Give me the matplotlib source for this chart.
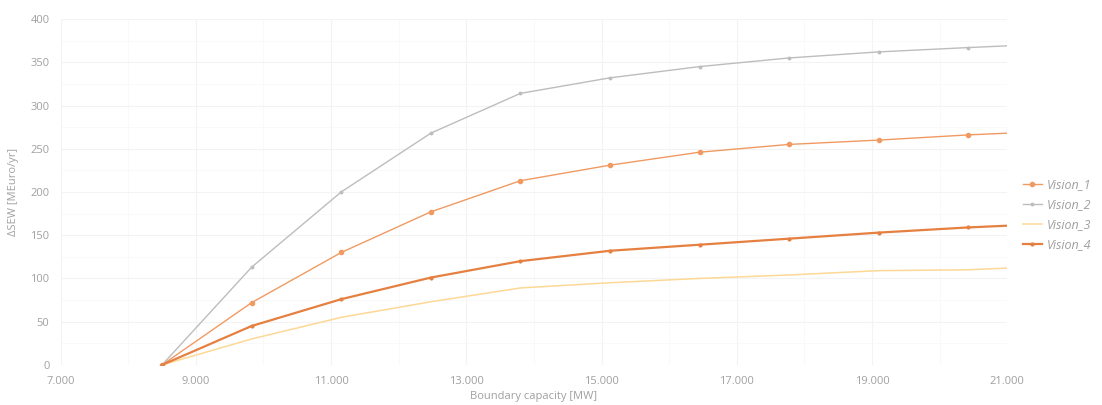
import matplotlib
matplotlib.use("Agg")
import matplotlib.pyplot as plt
from matplotlib.ticker import FuncFormatter, FixedLocator, MultipleLocator

# boundary capacity [MW]
capacity = [8500, 9825, 11150, 12475, 13800, 15125, 16450, 17775, 19100, 20425, 21000]

# delta SEW [MEuro/yr]
vision_1 = [0, 72, 130, 177, 213, 231, 246, 255, 260, 266, 268]
vision_2 = [0, 113, 200, 268, 314, 332, 345, 355, 362, 367, 369]
vision_3 = [0, 30, 55, 73, 89, 95, 100, 104, 109, 110, 112]
vision_4 = [0, 45, 76, 101, 120, 132, 139, 146, 153, 159, 161]

names = ["Vision_1", "Vision_2", "Vision_3", "Vision_4"]
xticks = [7000, 9000, 11000, 13000, 15000, 17000, 19000, 21000]

plt.rcParams['font.family'] = ['Open Sans', 'DejaVu Sans']
txt = '#a0a0a0'

fig = plt.figure(figsize=(11.02, 4.05), dpi=100)
ax = fig.add_axes([0.055, 0.099, 0.859, 0.854])

ax.plot(capacity, vision_1, color='#f09a62', lw=1.0, marker='o', ms=3,
        markevery=slice(0, -1), label=names[0])
ax.plot(capacity, vision_2, color='#bdbdbd', lw=1.0, marker='o', ms=1.8,
        markevery=slice(0, -1), label=names[1])
ax.plot(capacity, vision_3, color='#fdd896', lw=1.1, label=names[2])
ax.plot(capacity, vision_4, color='#e58040', lw=1.6, marker='o', ms=2,
        markevery=slice(0, -1), label=names[3])

ax.set_xlim(7000, 21000)
ax.set_ylim(0, 400)
ax.xaxis.set_major_locator(FixedLocator(xticks))
ax.xaxis.set_minor_locator(FixedLocator(list(range(7000, 21001, 1000))))
ax.yaxis.set_major_locator(MultipleLocator(50))
ax.yaxis.set_minor_locator(MultipleLocator(25))
ax.xaxis.set_major_formatter(FuncFormatter(lambda v, p: f"{int(v):,}".replace(",", ".")))

ax.grid(which='major', color='#f3f3f3', lw=0.8)
ax.grid(which='minor', color='#f8f8f8', lw=0.6)
ax.set_axisbelow(True)
for s in ax.spines.values():
    s.set_visible(False)
ax.tick_params(which='both', length=0, labelsize=8, labelcolor=txt, pad=8)

ax.set_xlabel("Boundary capacity [MW]", fontsize=8, color=txt, labelpad=3)
ax.set_ylabel("\u0394SEW [MEuro/yr]", fontsize=8, color=txt, labelpad=8)

leg = fig.legend(loc='center left', bbox_to_anchor=(0.918, 0.47), frameon=False,
                 fontsize=9, handlelength=1.5, labelspacing=0.55, handletextpad=0.4)
for t in leg.get_texts():
    t.set_color(txt)
    t.set_style('italic')

fig.savefig("out.png", dpi=100)
